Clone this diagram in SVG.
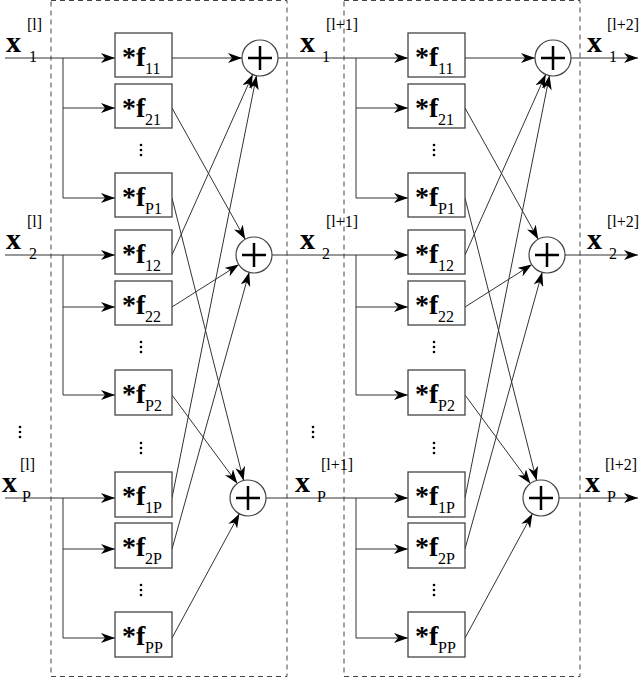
<svg xmlns="http://www.w3.org/2000/svg" xmlns:xlink="http://www.w3.org/1999/xlink" width="640" height="677" viewBox="0 0 640 677" font-family="'Liberation Serif', 'DejaVu Serif', serif">
<style>
text{font-family:"Liberation Serif","DejaVu Serif","Times New Roman",serif}
.b{fill:#fff;stroke:#444;stroke-width:1.3}
.d{fill:none;stroke:#444;stroke-width:1;stroke-dasharray:5,4}
.l{fill:none;stroke:#333;stroke-width:1;marker-end:url(#a)}
.p{fill:none;stroke:#333;stroke-width:1}
.c{fill:#fff;stroke:#444;stroke-width:1.2}
.x{stroke:#000;stroke-width:2.5}
.f{font-size:28px;font-weight:bold}
.u{font-size:16px}
.v{font-size:30px;font-weight:bold}
.dot{fill:#000}
</style>
<defs>
<marker id="a" markerUnits="userSpaceOnUse" markerWidth="15" markerHeight="10" refX="14" refY="5" orient="auto"><path d="M0,0 L14,5 L0,10 L4,5 z" fill="#000"/></marker>
<g id="add"><circle class="c" r="18"/><line class="x" x1="-12" y1="0" x2="12" y2="0"/><line class="x" x1="0" y1="-12" x2="0" y2="12"/></g>
<g id="dots"><circle class="dot" r="1.3" cy="-5"/><circle class="dot" r="1.3" cy="0"/><circle class="dot" r="1.3" cy="5"/></g>
</defs>
<rect width="640" height="677" fill="#fff"/>
<g id="frames"><rect class="d" x="51" y="0.5" width="236" height="676"/><rect class="d" x="344" y="0.5" width="236" height="676"/></g>

<g id="connectors">
<path class="l" d="M5,58 H115"/><path class="p" d="M63,58 V198"/><path class="l" d="M63,108 H115"/><path class="l" d="M63,198 H115"/>
<path class="l" d="M5,255 H115"/><path class="p" d="M63,255 V395"/><path class="l" d="M63,307 H115"/><path class="l" d="M63,395 H115"/>
<path class="l" d="M5,498 H115"/><path class="p" d="M63,498 V638"/><path class="l" d="M63,549 H115"/><path class="l" d="M63,638 H115"/>
<path class="l" d="M172,58 L242,58"/><path class="l" d="M172,255 L252.7,74.4"/><path class="l" d="M172,498 L256.5,75.6"/>
<path class="l" d="M172,108 L245.2,239.2"/><path class="l" d="M172,307 L238.8,264.6"/><path class="l" d="M172,549 L249.2,272.3"/>
<path class="l" d="M172,198 L243.6,480.6"/><path class="l" d="M172,395 L237.3,483.5"/><path class="l" d="M172,638 L239.4,513.8"/>
<path class="l" d="M278,58 H408"/><path class="p" d="M356,58 V198"/><path class="l" d="M356,108 H408"/><path class="l" d="M356,198 H408"/>
<path class="l" d="M272,255 H408"/><path class="p" d="M356,255 V395"/><path class="l" d="M356,307 H408"/><path class="l" d="M356,395 H408"/>
<path class="l" d="M266,498 H408"/><path class="p" d="M356,498 V638"/><path class="l" d="M356,549 H408"/><path class="l" d="M356,638 H408"/>
<g transform="translate(293,0)">
<path class="l" d="M172,58 L242,58"/><path class="l" d="M172,255 L252.7,74.4"/><path class="l" d="M172,498 L256.5,75.6"/>
<path class="l" d="M172,108 L245.2,239.2"/><path class="l" d="M172,307 L238.8,264.6"/><path class="l" d="M172,549 L249.2,272.3"/>
<path class="l" d="M172,198 L243.6,480.6"/><path class="l" d="M172,395 L237.3,483.5"/><path class="l" d="M172,638 L239.4,513.8"/>
</g>
<path class="l" d="M571,58 H638"/><path class="l" d="M565,255 H638"/><path class="l" d="M559,498 H638"/>
</g>

<g id="block1">
<g id="b1-f11"><rect class="b" x="115" y="33" width="57" height="44"/><text x="122" y="66" class="f">*f</text><text x="145" y="74" class="u">11</text></g>
<g id="b1-f21"><rect class="b" x="115" y="84" width="57" height="44"/><text x="122" y="117" class="f">*f</text><text x="145" y="125" class="u">21</text></g>
<g id="b1-fP1"><rect class="b" x="115" y="173" width="57" height="44"/><text x="122" y="206" class="f">*f</text><text x="145" y="214" class="u">P1</text></g>
<g id="b1-f12"><rect class="b" x="115" y="230" width="57" height="44"/><text x="122" y="263" class="f">*f</text><text x="145" y="271" class="u">12</text></g>
<g id="b1-f22"><rect class="b" x="115" y="281" width="57" height="44"/><text x="122" y="314" class="f">*f</text><text x="145" y="322" class="u">22</text></g>
<g id="b1-fP2"><rect class="b" x="115" y="370" width="57" height="45"/><text x="122" y="403" class="f">*f</text><text x="145" y="411" class="u">P2</text></g>
<g id="b1-f1P"><rect class="b" x="115" y="472" width="57" height="45"/><text x="122" y="505" class="f">*f</text><text x="145" y="513" class="u">1P</text></g>
<g id="b1-f2P"><rect class="b" x="115" y="523" width="57" height="45"/><text x="122" y="556" class="f">*f</text><text x="145" y="564" class="u">2P</text></g>
<g id="b1-fPP"><rect class="b" x="115" y="612" width="57" height="45"/><text x="122" y="645" class="f">*f</text><text x="145" y="653" class="u">PP</text></g>
<g id="b1-sum1"><use xlink:href="#add" x="260" y="58"/></g>
<g id="b1-sum2"><use xlink:href="#add" x="254" y="255"/></g>
<g id="b1-sumP"><use xlink:href="#add" x="248" y="498"/></g>
<use xlink:href="#dots" x="141" y="150"/><use xlink:href="#dots" x="141" y="347"/><use xlink:href="#dots" x="141" y="448"/><use xlink:href="#dots" x="141" y="590"/>
</g>

<g id="block2" transform="translate(293,0)">
<g id="b2-f11"><rect class="b" x="115" y="33" width="57" height="44"/><text x="122" y="66" class="f">*f</text><text x="145" y="74" class="u">11</text></g>
<g id="b2-f21"><rect class="b" x="115" y="84" width="57" height="44"/><text x="122" y="117" class="f">*f</text><text x="145" y="125" class="u">21</text></g>
<g id="b2-fP1"><rect class="b" x="115" y="173" width="57" height="44"/><text x="122" y="206" class="f">*f</text><text x="145" y="214" class="u">P1</text></g>
<g id="b2-f12"><rect class="b" x="115" y="230" width="57" height="44"/><text x="122" y="263" class="f">*f</text><text x="145" y="271" class="u">12</text></g>
<g id="b2-f22"><rect class="b" x="115" y="281" width="57" height="44"/><text x="122" y="314" class="f">*f</text><text x="145" y="322" class="u">22</text></g>
<g id="b2-fP2"><rect class="b" x="115" y="370" width="57" height="45"/><text x="122" y="403" class="f">*f</text><text x="145" y="411" class="u">P2</text></g>
<g id="b2-f1P"><rect class="b" x="115" y="472" width="57" height="45"/><text x="122" y="505" class="f">*f</text><text x="145" y="513" class="u">1P</text></g>
<g id="b2-f2P"><rect class="b" x="115" y="523" width="57" height="45"/><text x="122" y="556" class="f">*f</text><text x="145" y="564" class="u">2P</text></g>
<g id="b2-fPP"><rect class="b" x="115" y="612" width="57" height="45"/><text x="122" y="645" class="f">*f</text><text x="145" y="653" class="u">PP</text></g>
<g id="b2-sum1"><use xlink:href="#add" x="260" y="58"/></g>
<g id="b2-sum2"><use xlink:href="#add" x="254" y="255"/></g>
<g id="b2-sumP"><use xlink:href="#add" x="248" y="498"/></g>
<use xlink:href="#dots" x="141" y="150"/><use xlink:href="#dots" x="141" y="347"/><use xlink:href="#dots" x="141" y="448"/><use xlink:href="#dots" x="141" y="590"/>
</g>

<g id="labels">
<text x="6" y="52" class="v">x</text><text x="27" y="30" class="u">[l]</text><text x="29" y="62" class="u">1</text>
<text x="6" y="249" class="v">x</text><text x="27" y="227" class="u">[l]</text><text x="29" y="259" class="u">2</text>
<text x="2" y="492" class="v">x</text><text x="20" y="470" class="u">[l]</text><text x="22" y="502" class="u">P</text>
<use xlink:href="#dots" x="20" y="432"/>
<text x="300" y="52" class="v">x</text><text x="326" y="30" class="u">[l+1]</text><text x="322" y="62" class="u">1</text>
<text x="300" y="249" class="v">x</text><text x="326" y="227" class="u">[l+1]</text><text x="322" y="259" class="u">2</text>
<text x="295" y="492" class="v">x</text><text x="321" y="470" class="u">[l+1]</text><text x="317" y="502" class="u">P</text>
<use xlink:href="#dots" x="313" y="432"/>
<text x="587" y="52" class="v">x</text><text x="607" y="30" class="u" font-size="15">[l+2]</text><text x="609" y="62" class="u">1</text>
<text x="587" y="249" class="v">x</text><text x="607" y="227" class="u" font-size="15">[l+2]</text><text x="609" y="259" class="u">2</text>
<text x="585" y="492" class="v">x</text><text x="605" y="470" class="u" font-size="15">[l+2]</text><text x="607" y="502" class="u">P</text>
</g>
</svg>
